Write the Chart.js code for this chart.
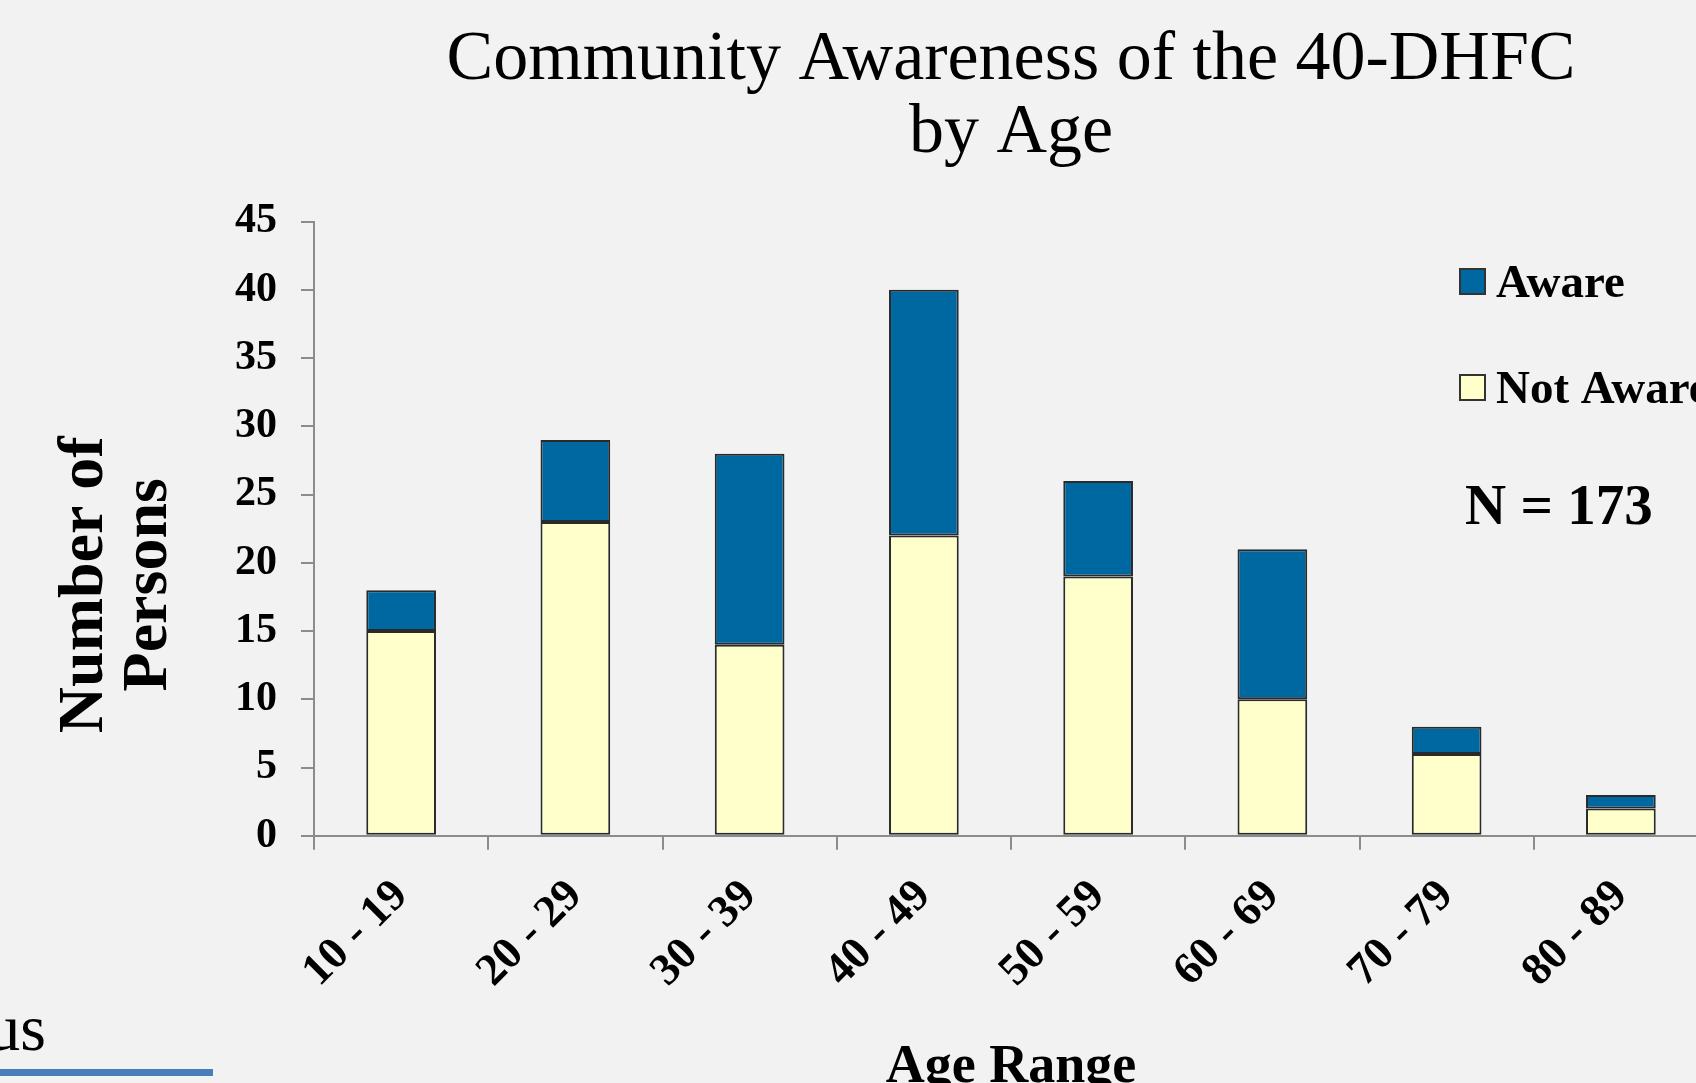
<!DOCTYPE html>
<html lang="en">
<head>
    <meta charset="UTF-8">
    <title>Community Awareness of the 40-DHFC by Age</title>
    <script src="https://cdn.jsdelivr.net/npm/chart.js@4.4.1/dist/chart.umd.min.js"></script>
    <style>
        body {
            margin: 0;
            background-color: #f2f2f2;
            overflow: hidden;
            width: 1696px;
            height: 1083px;
            position: relative;
        }
        #chart {
            position: absolute;
            left: 0;
            top: 0;
        }
        .fragment {
            position: absolute;
            left: -200px;
            width: 246px;
            top: 990px;
            text-align: right;
            font-family: 'Liberation Serif', serif;
            font-size: 66px;
            line-height: 76px;
            color: #000;
        }
        .rule {
            position: absolute;
            left: 0;
            top: 1069px;
            width: 213px;
            height: 7px;
            background-color: #4a7ebb;
        }
    </style>
</head>
<body>
    <canvas id="chart" width="1730" height="1100"></canvas>
    <div class="fragment">us</div>
    <div class="rule"></div>

    <script>
        // Данные
        const ageRanges = ['10 - 19', '20 - 29', '30 - 39', '40 - 49', '50 - 59', '60 - 69', '70 - 79', '80 - 89'];
        const notAware = [15, 23, 14, 22, 19, 10, 6, 2];
        const aware = [3, 6, 14, 18, 7, 11, 2, 1];
        const yTicks = [0, 5, 10, 15, 20, 25, 30, 35, 40, 45];

        const serif = "'Liberation Serif', 'Times New Roman', serif";
        const axisGrey = '#8c8c8c';

        // Легенда и N рисуются поверх области графика
        const sideLegend = {
            id: 'sideLegend',
            afterDraw(chart) {
                const ctx = chart.ctx;
                const items = [chart.data.datasets[1], chart.data.datasets[0]];
                ctx.save();
                ctx.font = 'bold 47px ' + serif;
                ctx.textBaseline = 'middle';
                items.forEach((ds, i) => {
                    const y = 269 + i * 106;
                    ctx.fillStyle = ds.backgroundColor;
                    ctx.fillRect(1460, y, 25, 25);
                    ctx.strokeStyle = '#333';
                    ctx.lineWidth = 2;
                    ctx.strokeRect(1460, y, 25, 25);
                    ctx.fillStyle = '#000';
                    ctx.fillText(ds.label, 1496, y + 16);
                });
                const total = chart.data.datasets.reduce((s, ds) => s + ds.data.reduce((a, b) => a + b, 0), 0);
                ctx.font = 'bold 57px ' + serif;
                ctx.fillText('N = ' + total, 1465, 509);
                ctx.restore();
            }
        };

        new Chart(document.getElementById('chart'), {
            type: 'bar',
            data: {
                labels: ageRanges,
                datasets: [
                    {
                        label: 'Not Aware',
                        data: notAware,
                        backgroundColor: '#ffffcc',
                        borderColor: '#2a2a2a',
                        borderWidth: 2,
                        borderSkipped: false,
                        barPercentage: 0.4,
                        categoryPercentage: 1.0
                    },
                    {
                        label: 'Aware',
                        data: aware,
                        backgroundColor: '#0068a0',
                        borderColor: '#2a2a2a',
                        borderWidth: 2,
                        borderSkipped: false,
                        barPercentage: 0.4,
                        categoryPercentage: 1.0
                    }
                ]
            },
            options: {
                responsive: false,
                animation: false,
                layout: {
                    padding: { left: 53, right: 22, top: 0, bottom: 0 }
                },
                plugins: {
                    legend: { display: false },
                    tooltip: { enabled: false },
                    title: {
                        display: true,
                        fullSize: false,
                        text: ['Community Awareness of the 40-DHFC', 'by Age'],
                        color: '#000',
                        font: { family: serif, size: 70, weight: 'normal', lineHeight: 1.04 },
                        padding: { top: 24, bottom: 52 }
                    }
                },
                scales: {
                    x: {
                        stacked: true,
                        border: { color: axisGrey, width: 2 },
                        grid: {
                            offset: true,
                            drawOnChartArea: false,
                            tickLength: 14,
                            color: axisGrey,
                            lineWidth: 2
                        },
                        ticks: {
                            color: '#000',
                            font: { family: serif, size: 45, weight: 'bold' },
                            minRotation: 45,
                            maxRotation: 45,
                            padding: 20
                        },
                        title: {
                            display: true,
                            text: 'Age Range',
                            color: '#000',
                            font: { family: serif, size: 54, weight: 'bold', lineHeight: 1.2 },
                            padding: { top: 17, bottom: 0 }
                        }
                    },
                    y: {
                        stacked: true,
                        min: 0,
                        max: 45,
                        border: { color: axisGrey, width: 2 },
                        grid: {
                            drawOnChartArea: false,
                            tickLength: 13,
                            color: axisGrey,
                            lineWidth: 2
                        },
                        afterBuildTicks(scale) {
                            scale.ticks = yTicks.map(v => ({ value: v }));
                        },
                        ticks: {
                            color: '#000',
                            font: { family: serif, size: 42, weight: 'bold' },
                            padding: 24
                        },
                        title: {
                            display: true,
                            // хвостовые пробелы сдвигают подпись ниже центра оси, как в оригинале
                            text: ['Number of       ', 'Persons       '],
                            color: '#000',
                            font: { family: serif, size: 64, weight: 'bold', lineHeight: 1.0 },
                            padding: { top: 0, bottom: 30 }
                        }
                    }
                }
            },
            plugins: [sideLegend]
        });
    </script>
</body>
</html>
